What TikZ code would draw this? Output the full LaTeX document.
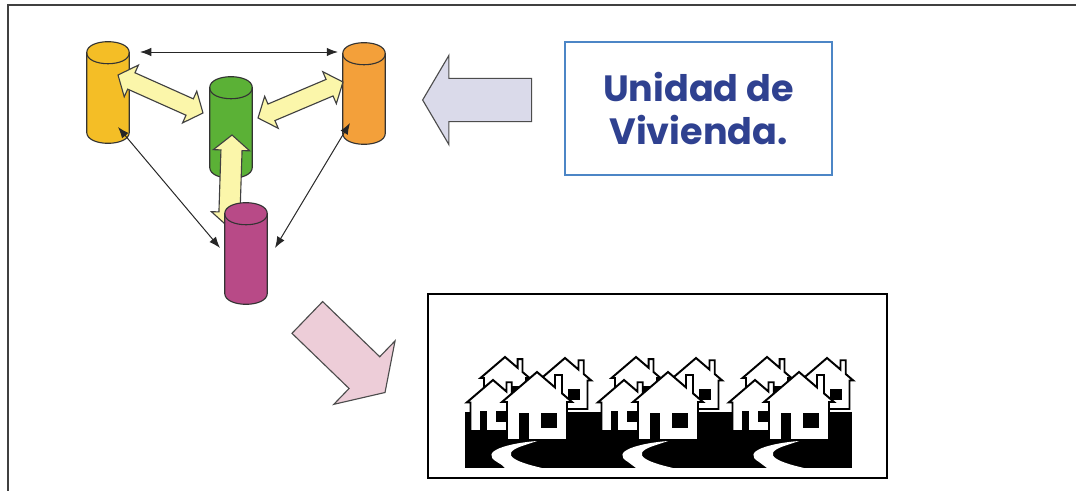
\documentclass[tikz,border=0pt]{standalone}
\usepackage{fontspec}
\newfontfamily\boxfont{Poppins}
\usetikzlibrary{arrows.meta,shapes.arrows,calc}

\definecolor{canyellow}{HTML}{F4BE26}
\definecolor{cangreen}{HTML}{5BB136}
\definecolor{canorange}{HTML}{F3A03A}
\definecolor{canmagenta}{HTML}{B84A87}
\definecolor{fatfill}{HTML}{FBF6AA}
\definecolor{greyarrow}{HTML}{DADAEA}
\definecolor{pinkarrow}{HTML}{EDCDD8}
\definecolor{titleblue}{HTML}{2F4190}
\definecolor{boxblue}{HTML}{4C86C6}

% fat double arrow laid between two points
\newcommand\fatlink[3][]{%
  \path let \p1=($(#3)-(#2)$), \n1={atan2(\y1,\x1)}, \n2={veclen(\x1,\y1)} in
    node[fatarrow,#1,rotate=\n1,minimum height=\n2] at ($(#2)!0.5!(#3)$) {};}

% upright cylinder drawn round a (blank) node
\newcommand\drawcan[2]{%
  \filldraw[canline,fill=#2] ($(#1.north west)+(0,11)$) -- ($(#1.south west)+(0,-11)$)
    .. controls +(0,14.7) and +(0,14.7) .. ($(#1.south east)+(0,-11)$)
    -- ($(#1.north east)+(0,11)$)
    .. controls +(0,-14.7) and +(0,-14.7) .. ($(#1.north west)+(0,11)$) -- cycle;
  \draw[canline] ($(#1.north west)+(0,11)$)
    .. controls +(0,14.7) and +(0,14.7) .. ($(#1.north east)+(0,11)$);}

\begin{document}
\begin{tikzpicture}[x=0.025cm,y=-0.025cm,
  can/.style={minimum width=1.05cm,minimum height=2.525cm,inner sep=0},
  canline/.style={draw=black!80,line width=0.8pt},
  fatarrow/.style={draw=black!75,line width=0.8pt,fill=fatfill,double arrow,
    double arrow tip angle=100,double arrow head extend=0.21cm,inner xsep=0,inner ysep=0.21cm},
  link/.style={{Latex[length=8pt,width=6pt]}-{Latex[length=8pt,width=6pt]},line width=0.7pt,black!85},
  house/.pic={
    \filldraw[fill=white,draw=black,line width=1.4pt,line join=miter]
      (0,0) -- (18,15.4) -- (18,3) -- (25,3) -- (25,21.4) -- (35,30) -- (30,30)
      -- (30,68) -- (-30,68) -- (-30,30) -- (-35,30) -- cycle;
    \fill (-18,41) rectangle (-8,68);
    \fill (4,41) rectangle (20,56);
  }]
  \useasboundingbox (0,0) rectangle (1076,491);
  \fill[white] (0,0) rectangle (1076,491);
  \draw[line width=2pt,black!75] (1076,5) -- (8,5) -- (8,491);

  % the four data stores
  \node[can] (yel) at (108,92.5) {};
  \node[can] (org) at (364,93.5) {};
  \node[can] (grn) at (231,127.5) {};
  \node[can] (mag) at (246,253.5) {};
  \drawcan{yel}{canyellow}
  \drawcan{org}{canorange}
  \drawcan{grn}{cangreen}

  \coordinate (ygA) at ($(yel)+(10,-17.5)$);
  \coordinate (ygB) at ($(grn)+(-28,-14.5)$);
  \coordinate (ogA) at ($(org)+(-21,-11.5)$);
  \coordinate (ogB) at ($(grn)+(27,-9.5)$);
  \coordinate (gmA) at ($(grn)+(1,7.5)$);
  \coordinate (gmB) at ($(grn)+(-2,100)$);
  \fatlink{ygA}{ygB}
  \fatlink{ogA}{ogB}
  \fatlink[inner ysep=0.25cm,double arrow head extend=0.19cm]{gmA}{gmB}

  \drawcan{mag}{canmagenta}

  \draw[link] ($(yel)+(32,-40.5)$) -- ($(org)+(-26,-41.5)$);
  \draw[link] ($(yel)+(10,34.5)$) -- ($(mag)+(-26,-5.5)$);
  \draw[link] ($(org)+(-14,29.5)$) -- ($(mag)+(29,-5.5)$);

  % title box and the arrows around it
  \node[draw=boxblue,line width=1.4pt,minimum width=6.675cm,minimum height=3.325cm,
    align=center,text=titleblue,font=\boxfont\bfseries\fontsize{26}{31}\selectfont]
    (title) at (698.5,108.5) {Unidad de\\Vivienda.};
  \node[single arrow,draw=black!70,line width=0.8pt,fill=greyarrow,rotate=180,
    minimum height=2.725cm,inner xsep=0,inner ysep=0.525cm,single arrow head extend=0.575cm,
    single arrow tip angle=119] (intake) at (483.5,100) {};
  \node[single arrow,draw=black!70,line width=0.8pt,fill=pinkarrow,rotate=-44,
    minimum height=2.7cm,inner xsep=0,inner ysep=0.5375cm,single arrow head extend=0.55cm,
    single arrow tip angle=114] (outflow) at (341,350) {};

  % the housing estate
  \node[draw,line width=1.6pt,minimum width=11.475cm,minimum height=4.6cm,inner sep=0]
    (estate) at (657.5,386) {};
  \foreach \g in {0,131,262} {
    \begin{scope}[shift={(\g,0)}]
      \pic[scale=0.7] at (505,357) {house};
      \pic[scale=0.75] at (565,358) {house};
    \end{scope}
  }
  \fill (465,412) rectangle (852,468);
  \foreach \g in {0,131,262} {
    \begin{scope}[shift={(\g,0)}]
      \pic[scale=0.75] at (493,380) {house};
      \pic at (537,372) {house};
      \fill[white] (537,441) .. controls (510,443) and (478,451) .. (497,462)
        .. controls (502,465) .. (505,468) -- (542,468)
        .. controls (520,463) and (496,455) .. (522,446) -- cycle;
    \end{scope}
  }
\end{tikzpicture}
\end{document}
